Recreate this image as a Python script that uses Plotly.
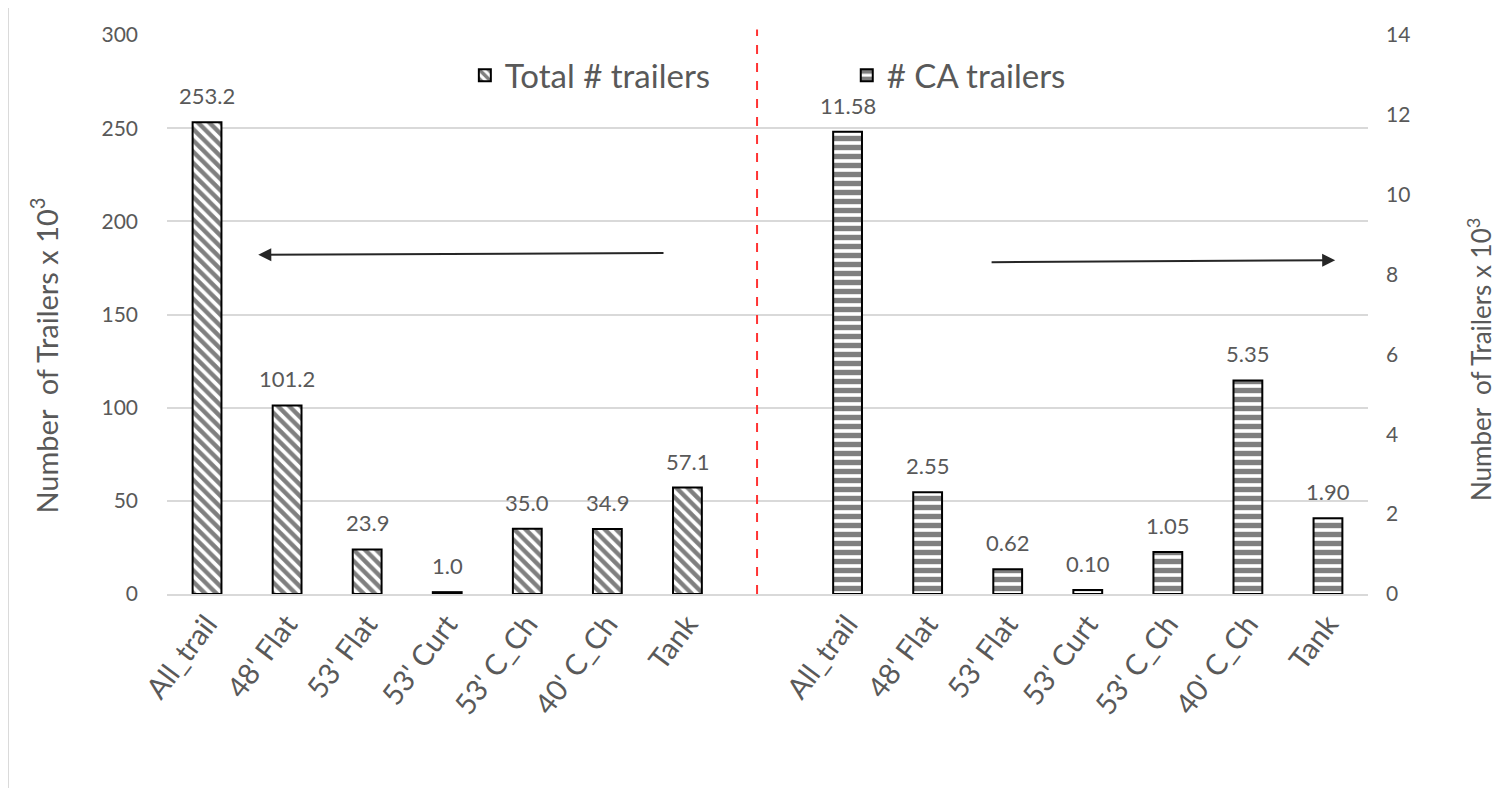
import plotly.graph_objects as go

categories = ["All_trail", "48' Flat", "53' Flat", "53' Curt", "53' C_Ch", "40' C_Ch", "Tank"]
total_trailers = [253.2, 101.2, 23.9, 1.0, 35.0, 34.9, 57.1]
ca_trailers = [11.58, 2.55, 0.62, 0.10, 1.05, 5.35, 1.90]
total_labels = ["253.2", "101.2", "23.9", "1.0", "35.0", "34.9", "57.1"]
ca_labels = ["11.58", "2.55", "0.62", "0.10", "1.05", "5.35", "1.90"]

n = len(categories)
x_left = list(range(n))
x_right = [i + n + 1 for i in range(n)]
tickvals = x_left + x_right
ticktext = categories + categories

FONT = "Lato, Open Sans, sans-serif"
GRAY = "#595959"

fig = go.Figure()
fig.add_trace(go.Bar(
    x=x_left, y=total_trailers, name="Total # trailers", width=0.36,
    marker=dict(color="white", line=dict(color="black", width=2),
                pattern=dict(shape="\\", fgcolor="black", bgcolor="white", size=8, solidity=0.55)),
    legend="legend", yaxis="y",
))
fig.add_trace(go.Bar(
    x=x_right, y=ca_trailers, name="# CA trailers", width=0.36,
    marker=dict(color="white", line=dict(color="black", width=2),
                pattern=dict(shape="-", fgcolor="black", bgcolor="white", size=9, solidity=0.6)),
    legend="legend2", yaxis="y2",
))

annotations = []
for xv, yv, t in zip(x_left, total_trailers, total_labels):
    annotations.append(dict(x=xv, y=yv, xref="x", yref="y", text=t, showarrow=False,
                            yanchor="bottom", yshift=11, font=dict(family=FONT, size=22, color=GRAY)))
for xv, yv, t in zip(x_right, ca_trailers, ca_labels):
    annotations.append(dict(x=xv, y=yv, xref="x", yref="y2", text=t, showarrow=False,
                            yanchor="bottom", yshift=11, font=dict(family=FONT, size=22, color=GRAY)))

# axis titles
annotations.append(dict(x=-0.102, y=0.4275, xref="paper", yref="paper", textangle=-90,
                        text="Number  of Trailers x 10<sup>3</sup>", showarrow=False,
                        xanchor="center", yanchor="middle", font=dict(family=FONT, size=29, color=GRAY)))
annotations.append(dict(x=1.0935, y=0.419, xref="paper", yref="paper", textangle=-90,
                        text="Number  of Trailers x 10<sup>3</sup>", showarrow=False,
                        xanchor="center", yanchor="middle", font=dict(family=FONT, size=26, color=GRAY)))

# direction arrows
annotations.append(dict(x=0.64, y=182, ax=5.72, ay=183, xref="x", yref="y", axref="x", ayref="y",
                        text="", showarrow=True, arrowhead=2, arrowsize=1.3, arrowwidth=2,
                        arrowcolor="#262626"))
annotations.append(dict(x=14.09, y=8.36, ax=9.78, ay=8.31, xref="x", yref="y2", axref="x", ayref="y2",
                        text="", showarrow=True, arrowhead=2, arrowsize=1.3, arrowwidth=2,
                        arrowcolor="#262626"))

shapes = [
    dict(type="line", xref="paper", yref="paper", x0=0.4913, x1=0.4913, y0=0, y1=1.01,
         line=dict(color="#ff3333", width=2, dash="dash")),
    dict(type="rect", xref="paper", yref="paper", x0=-0.132, x1=1.2, y0=-0.5, y1=1.054,
         line=dict(color="#d9d9d9", width=1)),
]

fig.update_layout(
    width=1492, height=780,
    margin=dict(l=159, r=132, t=27, b=194, autoexpand=False),
    paper_bgcolor="white", plot_bgcolor="white",
    font=dict(family=FONT, color=GRAY, size=21),
    barmode="overlay",
    showlegend=True,
    legend=dict(x=0.248, y=0.928, xanchor="left", yanchor="middle", orientation="h",
                font=dict(size=33, color=GRAY), bgcolor="rgba(0,0,0,0)"),
    legend2=dict(x=0.566, y=0.928, xanchor="left", yanchor="middle", orientation="h",
                 font=dict(size=33, color=GRAY), bgcolor="rgba(0,0,0,0)"),
    xaxis=dict(range=[-0.5, 2 * n + 0.5], tickvals=tickvals, ticktext=ticktext, tickangle=-53,
               showline=True, linecolor="#d9d9d9", linewidth=1.5, showgrid=False, ticks="",
               tickfont=dict(size=29, color=GRAY), zeroline=False, automargin=False),
    yaxis=dict(range=[0, 300], dtick=50, showgrid=True, gridcolor="#d9d9d9", gridwidth=1.5,
               zeroline=False, showline=False, ticks="", ticklabelstandoff=28,
               tickfont=dict(size=21, color=GRAY), automargin=False),
    yaxis2=dict(range=[0, 14], dtick=2, overlaying="y", side="right", showgrid=False,
                zeroline=False, showline=False, ticks="", ticklabelstandoff=17,
                tickfont=dict(size=21, color=GRAY), automargin=False),
    annotations=annotations,
    shapes=shapes,
)

fig.write_html("out.html")
